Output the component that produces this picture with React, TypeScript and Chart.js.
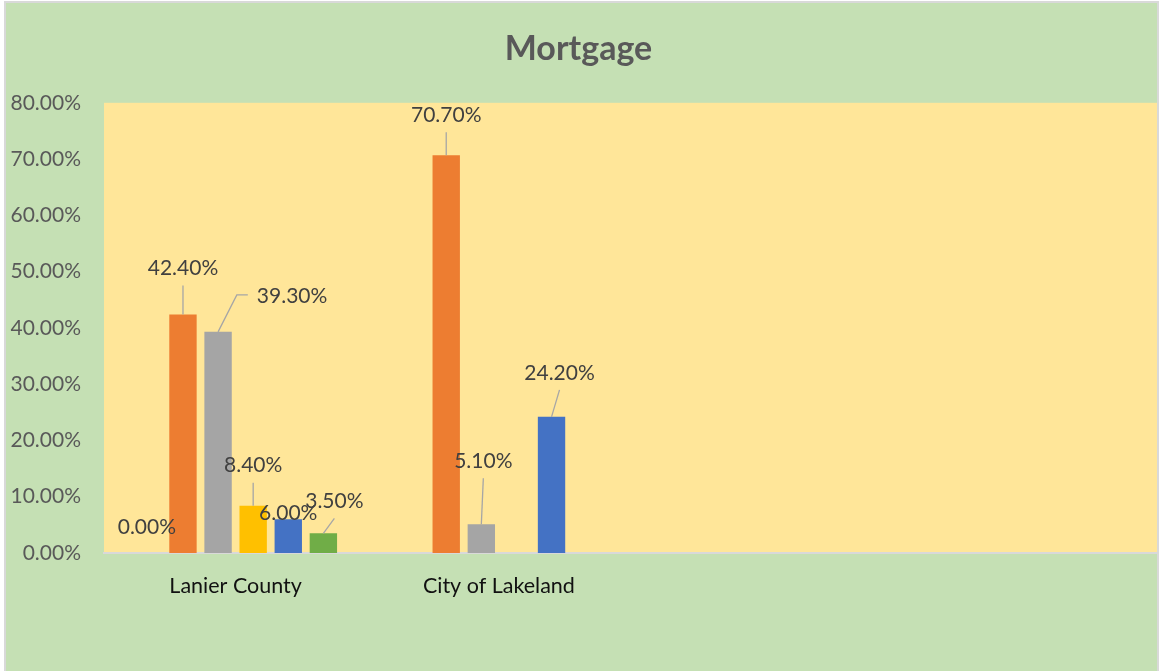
import React, { useEffect, useRef } from "react";
import { Chart, registerables } from "chart.js";

Chart.register(...registerables);

const categories = ["Lanier County", "City of Lakeland", "", ""];
const seriesNames = ["Series 0", "Series 1", "Series 2", "Series 3", "Series 4", "Series 5"];
const series0 = [0.0, null, null, null];
const series1 = [42.4, 70.7, null, null];
const series2 = [39.3, 5.1, null, null];
const series3 = [8.4, null, null, null];
const series4 = [6.0, 24.2, null, null];
const series5 = [3.5, null, null, null];
const yTicks = [0, 10, 20, 30, 40, 50, 60, 70, 80];

const colors = ["#4472C4", "#ED7D31", "#A5A5A5", "#FFC000", "#4472C4", "#70AD47"];

// label placement styling: [dx, dy, leader] relative to bar top centre, per series per category
type Lbl = [number, number, string];
const labelStyle: Lbl[][] = [
  [[-1, -26, "none"], [0, 0, "none"]],
  [[0, -46, "down"], [0, -40, "down"]],
  [[74, -36, "side"], [2, -63, "down"]],
  [[0, -40, "down"], [0, 0, "none"]],
  [[0, -6, "none"], [8, -44, "down"]],
  [[11, -32, "down"], [0, 0, "none"]],
];

const FONT = "Lato, 'Open Sans', sans-serif";

export default function App() {
  const ref = useRef<HTMLCanvasElement | null>(null);

  useEffect(() => {
    const canvas = ref.current;
    if (!canvas) return;
    const allSeries = [series0, series1, series2, series3, series4, series5];

    const bgPlugin = {
      id: "bg",
      beforeDraw(chart: any) {
        const { ctx, chartArea } = chart;
        ctx.save();
        ctx.fillStyle = "#ffffff";
        ctx.fillRect(0, 0, chart.width, chart.height);
        ctx.fillStyle = "#C5E0B4";
        ctx.fillRect(6, 3, 1151, chart.height);
        ctx.strokeStyle = "#D9D9D9";
        ctx.lineWidth = 2;
        ctx.strokeRect(5, 2, 1153, chart.height + 10);
        ctx.fillStyle = "#FFE699";
        ctx.fillRect(chartArea.left, chartArea.top, chartArea.right - chartArea.left, chartArea.bottom - chartArea.top);
        ctx.restore();
      },
    };

    const labelPlugin = {
      id: "dlabels",
      afterDatasetsDraw(chart: any) {
        const { ctx } = chart;
        ctx.save();
        ctx.font = `21px ${FONT}`;
        ctx.textAlign = "center";
        ctx.textBaseline = "middle";
        chart.data.datasets.forEach((ds: any, di: number) => {
          const meta = chart.getDatasetMeta(di);
          meta.data.forEach((bar: any, i: number) => {
            const v = ds.data[i];
            if (v === null || v === undefined) return;
            const st = labelStyle[di][i];
            if (!st) return;
            const [dx, dy, leader] = st;
            const bx = bar.x;
            const by = bar.y;
            const lx = bx + dx;
            const ly = by + dy;
            const text = `${v.toFixed(2)}%`;
            ctx.strokeStyle = "#A6A6A6";
            ctx.lineWidth = 1.3;
            if (leader === "down") {
              ctx.beginPath();
              ctx.moveTo(lx, ly + 17);
              ctx.lineTo(bx, by);
              ctx.stroke();
            } else if (leader === "side") {
              const w = ctx.measureText(text).width;
              const ex = lx - w / 2 - 9;
              ctx.beginPath();
              ctx.moveTo(bx, by);
              ctx.lineTo(ex - 11, ly - 1);
              ctx.lineTo(ex, ly - 1);
              ctx.stroke();
            }
            ctx.fillStyle = "#404040";
            ctx.fillText(text, lx, ly);
          });
        });
        ctx.restore();
      },
    };

    const chart = new Chart(canvas, {
      type: "bar",
      data: {
        labels: categories,
        datasets: allSeries.map((d, i) => ({
          label: seriesNames[i],
          data: d,
          backgroundColor: colors[i],
          borderWidth: 0,
          categoryPercentage: 0.8,
          barPercentage: 0.78,
        })),
      },
      options: {
        animation: false,
        responsive: false,
        maintainAspectRatio: false,
        layout: { padding: { left: 0, right: 3, top: 0, bottom: 0 } },
        plugins: {
          legend: { display: false },
          tooltip: { enabled: false },
          title: {
            display: true,
            text: "Mortgage",
            color: "#595959",
            font: { family: FONT, size: 34, weight: "bold" },
            padding: { top: 29, bottom: 33 },
          },
        },
        scales: {
          x: {
            grid: { display: false, drawTicks: false },
            border: { display: true, color: "#D9D9D9", width: 2 },
            ticks: { color: "#111111", font: { family: FONT, size: 21.5 }, padding: 20, maxRotation: 0, autoSkip: false },
            afterFit(scale: any) {
              scale.height = 118;
            },
          },
          y: {
            min: 0,
            max: 80,
            grid: { display: false, drawTicks: false },
            border: { display: false },
            afterBuildTicks(scale: any) {
              scale.ticks = yTicks.map((v) => ({ value: v }));
            },
            ticks: {
              color: "#595959",
              font: { family: FONT, size: 21 },
              padding: 23,
              callback: (v: any) => `${Number(v).toFixed(2)}%`,
            },
            afterFit(scale: any) {
              scale.width = 104;
            },
          },
        },
      },
      plugins: [bgPlugin, labelPlugin],
    } as any);

    return () => chart.destroy();
  }, []);

  return (
    <div style={{ position: "fixed", left: 0, top: 0, width: 1160, height: 671 }}>
      <canvas ref={ref} width={1160} height={671} style={{ width: 1160, height: 671, display: "block" }} />
    </div>
  );
}
